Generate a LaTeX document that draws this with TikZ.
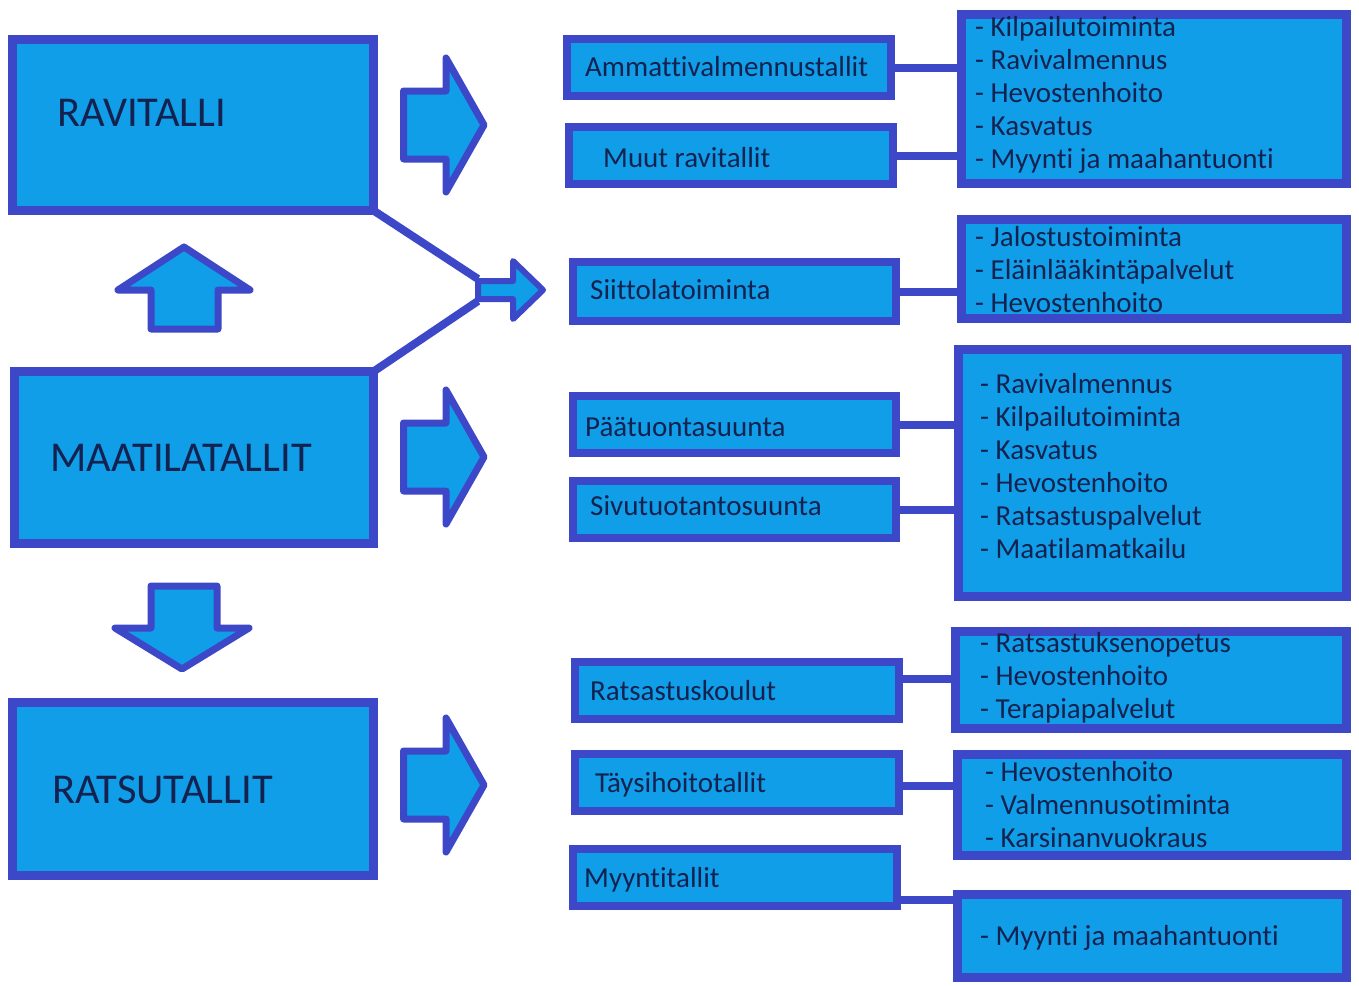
\documentclass[tikz,border=0pt]{standalone}
\usepackage{fontspec}
\setmainfont{Carlito}[Ligatures={NoCommon}]
\definecolor{fillb}{RGB}{16,158,232}
\definecolor{edgeb}{RGB}{60,72,200}
\definecolor{txt}{RGB}{20,34,80}
\newcommand\mkbox[6][9]{%
  \node[box, line width=#1pt, minimum width={(#5-#3-#1)*1pt}, minimum height={(#6-#4-#1)*1pt}] (#2) at ({(#3+#5)/2},{(#4+#6)/2}) {};}
\begin{document}
\begin{tikzpicture}[x=1pt,y=-1pt,
  box/.style={draw=edgeb, fill=fillb, inner sep=0pt, outer sep=0pt, rectangle},
  big/.style={font=\fontsize{42.5}{42.5}\selectfont, text=txt, inner sep=0pt, anchor=west, text height=27pt, text depth=0pt},
  mid/.style={font=\fontsize{29}{29}\selectfont, text=txt, inner sep=0pt, anchor=west, text height=18.5pt, text depth=0pt},
  item/.style={mid},
  conn/.style={draw=edgeb, line width=8pt},
  barrow/.style={draw=edgeb, fill=fillb, line width=7pt, line join=round}]
\fill[white] (0,0) rectangle (1359,985);
\useasboundingbox (0,0) rectangle (1359,985);

% left boxes
\mkbox{rav}{8}{35}{378}{215}
\mkbox{maa}{10}{367}{378}{548}
\mkbox{rat}{8}{698}{378}{880}
\node[big] (ravt) at (57,113) {RAVITALLI};
\node[big] (maat) at (50,458) {MAATILATALLIT};
\node[big] (ratt) at (52,790) {RATSUTALLIT};

% vertical block arrows
\draw[barrow] (151,329) -- (151,290) -- (118,290) -- (184,247) -- (250,290) -- (218,290) -- (218,329) -- cycle;
\draw[barrow] (151,586) -- (217,586) -- (217,628) -- (249,628) -- (182,669) -- (115,628) -- (151,628) -- cycle;

% right block arrows
\foreach \cy in {125,457,785}
  \draw[barrow, shift={(400,\cy)}] (3.5,-34) -- (46,-34) -- (46,-67) -- (84,0) -- (46,67) -- (46,34) -- (3.5,34) -- cycle;

% diagonal lines to small arrow
\coordinate (sat) at (478,279);
\coordinate (sab) at (478,301);
\draw[conn, line width=8pt] (rav.south east) -- (sat);
\draw[conn, line width=8pt] (maa.north east) -- (sab);
\draw[barrow, line width=6pt] (478,281) -- (513,281) -- (513,261) -- (543,290) -- (513,319) -- (513,299) -- (478,299) -- cycle;

% middle boxes
\mkbox[8]{amm}{563}{35}{895}{100}
\mkbox[8]{muut}{565}{123}{897}{188}
\mkbox[8]{siit}{569}{258}{900}{325}
\mkbox[8]{paa}{569}{392}{900}{457}
\mkbox[8]{sivu}{569}{477}{900}{542}
\mkbox[8]{rk}{571}{658}{903}{723}
\mkbox[8]{tay}{571}{750}{903}{815}
\mkbox[8]{myy}{569}{845}{901}{910}
\node[mid] (ammt) at (585,67) {Ammattivalmennustallit};
\node[mid] (muutt) at (603,158) {Muut ravitallit};
\node[mid] (siitt) at (590,290) {Siittolatoiminta};
\node[mid] (paat) at (585,427) {Päätuontasuunta};
\node[mid] (sivut) at (590,506) {Sivutuotantosuunta};
\node[mid] (rkt) at (590,691) {Ratsastuskoulut};
\node[mid] (tayt) at (595,783) {Täysihoitotallit};
\node[mid] (myyt) at (584,878) {Myyntitallit};

% right boxes
\mkbox{A}{957}{10}{1351}{188}
\mkbox{B}{957}{215}{1351}{323}
\mkbox{C}{954}{345}{1351}{601}
\mkbox{D}{951}{627}{1351}{733}
\mkbox{E}{953}{750}{1351}{860}
\mkbox{F}{953}{890}{1351}{982}

% connectors
\draw[conn] (amm.east) -- (amm.east -| A.west);
\draw[conn] (muut.east) -- (muut.east -| A.west);
\draw[conn] (siit.east) -- (siit.east -| B.west);
\draw[conn] (paa.east) -- (paa.east -| C.west);
\draw[conn] (sivu.east) -- (sivu.east -| C.west);
\coordinate (rkc) at ([yshift=12pt]rk.east);
\draw[conn] (rkc) -- (rkc -| D.west);
\coordinate (tayc) at ([yshift=-3pt]tay.east);
\draw[conn] (tayc) -- (tayc -| E.west);
\coordinate (myyc) at ([yshift=-22pt]myy.east);
\draw[conn] (myyc) -- (myyc -| F.west);

% items
\foreach \t [count=\i from 0] in {Kilpailutoiminta, Ravivalmennus, Hevostenhoito, Kasvatus, Myynti ja maahantuonti}
  \node[item] (A\i) at (975,{27+33*\i}) {- \t};
\foreach \t [count=\i from 0] in {Jalostustoiminta, Eläinlääkintäpalvelut, Hevostenhoito}
  \node[item] (B\i) at (975,{237+33*\i}) {- \t};
\foreach \t [count=\i from 0] in {Ravivalmennus, Kilpailutoiminta, Kasvatus, Hevostenhoito, Ratsastuspalvelut, Maatilamatkailu}
  \node[item] (C\i) at (980,{384+33*\i}) {- \t};
\foreach \t [count=\i from 0] in {Ratsastuksenopetus, Hevostenhoito, Terapiapalvelut}
  \node[item] (D\i) at (980,{643+33*\i}) {- \t};
\foreach \t [count=\i from 0] in {Hevostenhoito, Valmennusotiminta, Karsinanvuokraus}
  \node[item] (E\i) at (985,{772+33*\i}) {- \t};
\node[item] (F0) at (980,936) {- Myynti ja maahantuonti};
\end{tikzpicture}
\end{document}
